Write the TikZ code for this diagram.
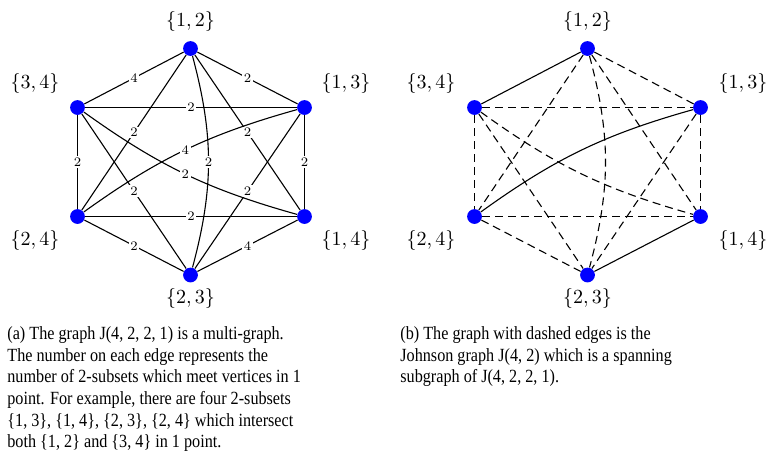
\documentclass[tikz,border=0pt]{standalone}
\usepackage{fontspec}
\newfontfamily\capfont[FakeStretch=0.87]{Liberation Serif}
\begin{document}
\begin{tikzpicture}[x=0.5pt,y=-0.5pt,
  vtx/.style={circle,fill=blue,inner sep=0pt,minimum size=7.4pt},
  vlab/.style={inner sep=0pt,font=\fontsize{10}{12}\selectfont},
  lbl/.style={fill=white,inner sep=0.8pt,font=\fontsize{6.5}{7}\selectfont},
  edge/.style={line width=0.55pt},
  dedge/.style={line width=0.55pt,dash pattern=on 4pt off 2.5pt},
  capt/.style={anchor=north west,inner sep=0pt,align=left,font=\capfont\fontsize{9.3}{10.85}\selectfont}]
\useasboundingbox (0,0) rectangle (767,456);
% ---------- left graph ----------
\node[vtx] (a12) at (190.5,48.5) {};
\node[vtx] (a34) at (77.5,107.5) {};
\node[vtx] (a13) at (304.5,107.5) {};
\node[vtx] (a24) at (77.5,216.5) {};
\node[vtx] (a14) at (304.5,216.5) {};
\node[vtx] (a23) at (190.5,275) {};
\node[vlab] (la12) at (190.5,21) {$\{1,2\}$};
\node[vlab] (la34) at (35,83) {$\{3,4\}$};
\node[vlab] (la13) at (346,83) {$\{1,3\}$};
\node[vlab] (la24) at (35,240) {$\{2,4\}$};
\node[vlab] (la14) at (346,240) {$\{1,4\}$};
\node[vlab] (la23) at (190.5,298) {$\{2,3\}$};
\draw[edge] (a12) -- node[lbl]{4} (a34);
\draw[edge] (a12) -- node[lbl]{2} (a13);
\draw[edge] (a34) -- node[lbl]{2} (a13);
\draw[edge] (a34) -- node[lbl]{2} (a24);
\draw[edge] (a13) -- node[lbl]{2} (a14);
\draw[edge] (a24) -- node[lbl]{2} (a14);
\draw[edge] (a24) -- node[lbl]{2} (a23);
\draw[edge] (a14) -- node[lbl]{4} (a23);
\draw[edge] (a12) -- node[lbl]{2} (a24);
\draw[edge] (a12) -- node[lbl]{2} (a14);
\draw[edge] (a34) -- node[lbl]{2} (a23);
\draw[edge] (a13) -- node[lbl]{2} (a23);
\draw[edge] (a12) to[bend left=15] node[lbl]{2} (a23);
\draw[edge] (a13) to[bend right=10] node[lbl]{4} (a24);
\draw[edge] (a34) to[bend right=10] node[lbl]{2} (a14);
% ---------- right graph ----------
\node[vtx] (b12) at (587.5,48.5) {};
\node[vtx] (b34) at (474.5,107.5) {};
\node[vtx] (b13) at (700.5,107.5) {};
\node[vtx] (b24) at (474.5,216.5) {};
\node[vtx] (b14) at (700.5,216.5) {};
\node[vtx] (b23) at (587.5,275) {};
\node[vlab] (lb12) at (587.5,21) {$\{1,2\}$};
\node[vlab] (lb34) at (431,83) {$\{3,4\}$};
\node[vlab] (lb13) at (743,83) {$\{1,3\}$};
\node[vlab] (lb24) at (431,240) {$\{2,4\}$};
\node[vlab] (lb14) at (743,240) {$\{1,4\}$};
\node[vlab] (lb23) at (587.5,298) {$\{2,3\}$};
\draw[edge] (b12) -- (b34);
\draw[edge] (b14) -- (b23);
\draw[edge] (b13) to[bend right=10] (b24);
\draw[dedge] (b12) -- (b13);
\draw[dedge] (b34) -- (b13);
\draw[dedge] (b34) -- (b24);
\draw[dedge] (b13) -- (b14);
\draw[dedge] (b24) -- (b14);
\draw[dedge] (b24) -- (b23);
\draw[dedge] (b12) -- (b24);
\draw[dedge] (b12) -- (b14);
\draw[dedge] (b34) -- (b23);
\draw[dedge] (b13) -- (b23);
\draw[dedge] (b12) to[bend left=15] (b23);
\draw[dedge] (b34) to[bend right=10] (b14);
% ---------- captions ----------
\node[capt] (capa) at (7,326) {(a) The graph J(4, 2, 2, 1) is a multi-graph.\\
The number on each edge represents the\\
number of 2-subsets which meet vertices in 1\\
point. For example, there are four 2-subsets\\
\{1, 3\}, \{1, 4\}, \{2, 3\}, \{2, 4\} which intersect\\
both \{1, 2\} and \{3, 4\} in 1 point.};
\node[capt] (capb) at (400,326) {(b) The graph with dashed edges is the\\
Johnson graph J(4, 2) which is a spanning\\
subgraph of J(4, 2, 2, 1).};
\end{tikzpicture}
\end{document}
